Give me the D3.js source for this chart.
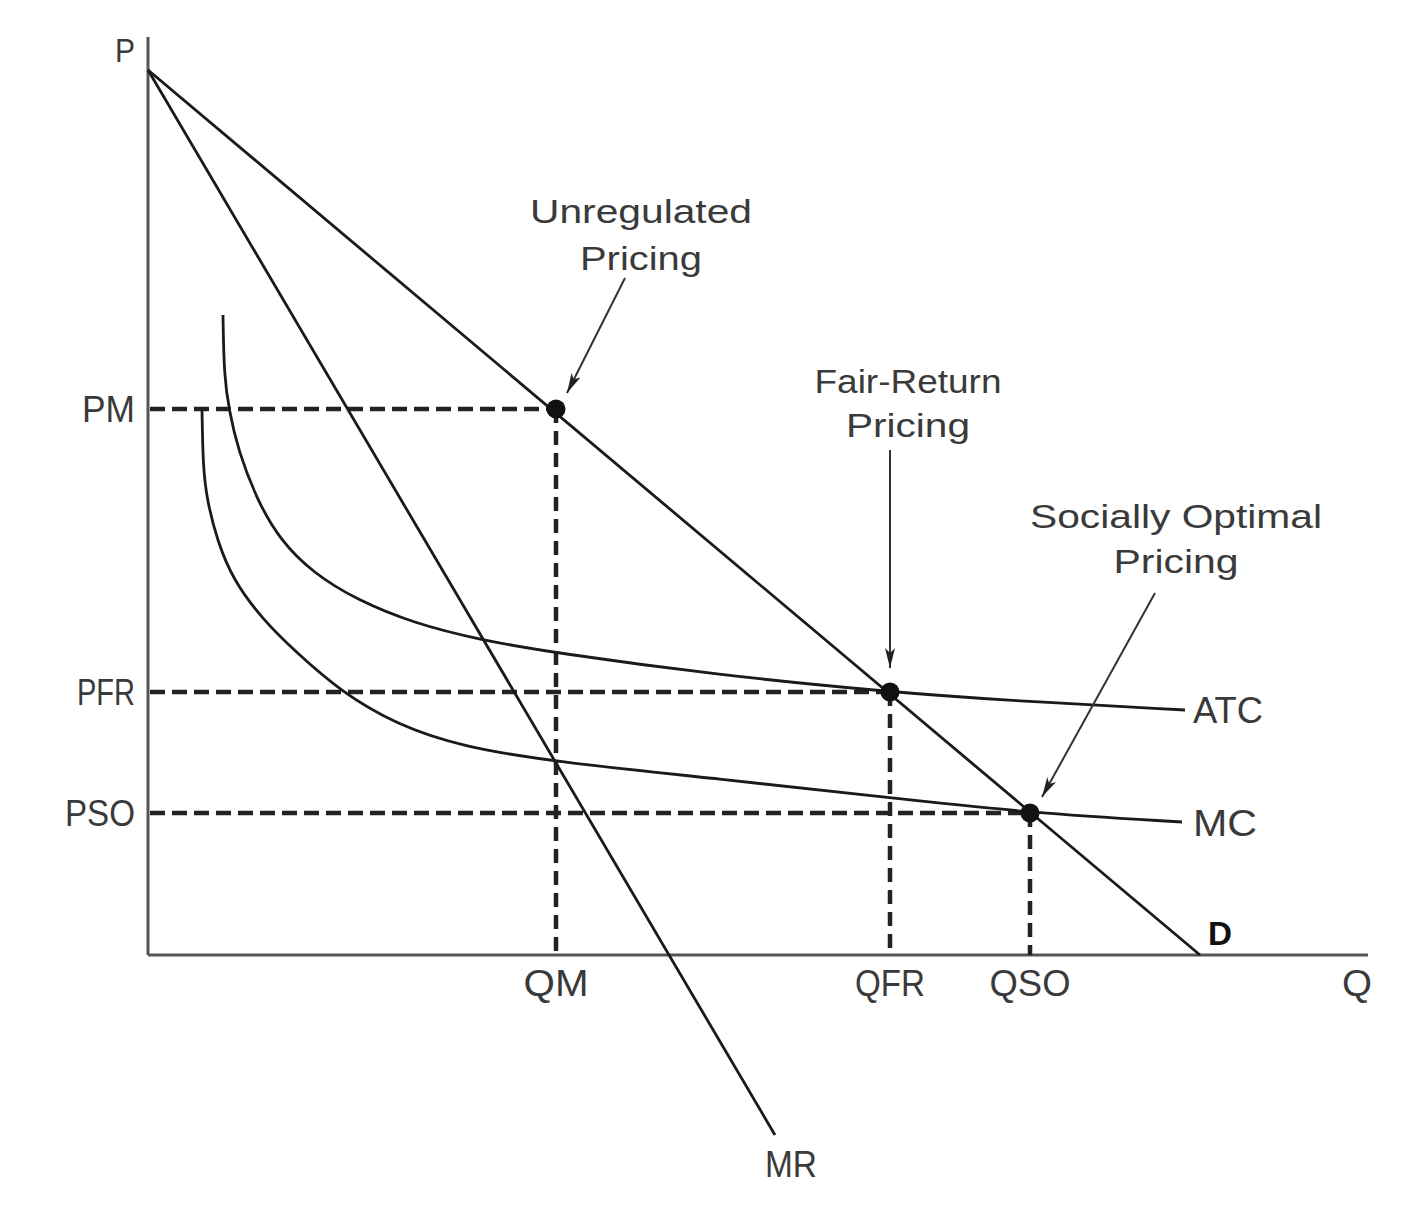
<!DOCTYPE html>
<html>
<head>
<meta charset="utf-8">
<script src="https://cdn.jsdelivr.net/npm/d3@7"></script>
<style>
  html, body { margin: 0; padding: 0; background: #fff; }
  svg { display: block; }
  text { font-family: "Liberation Sans", "DejaVu Sans", sans-serif; fill: #3a3a3a; }
</style>
</head>
<body>
<svg id="chart" width="1424" height="1206"></svg>
<script>
// ---------- DATA (Q and P in chart units) ----------
const demandPoints = [[0, 88.5], [105.2, 0]];
const mrPoints = [[0, 88.5], [62.7, -18]];
const atcPoints = [[7.5, 64], [7.6, 58], [8.1, 54.5], [9.0, 50.5], [10.9, 45.5], [13.2, 41.5],
  [16.5, 38.2], [20.9, 35.5], [26.5, 33.2], [33.2, 31.5], [40.8, 30.2], [56.9, 28.0],
  [74.2, 26.3], [85.2, 25.5], [103.7, 24.5]];
const mcPoints = [[5.4, 54.6], [5.5, 48.8], [5.9, 45.5], [6.9, 41.5], [8.5, 37.5], [11.5, 33.5],
  [14.9, 30.2], [19.2, 26.4], [24.9, 23.0], [31.5, 20.8], [40.8, 19.3], [57.2, 17.6],
  [73.5, 15.8], [88.2, 14.2], [103.4, 13.3]];
const priceLabels = ["PM", "PFR", "PSO"];
const priceValues = [54.6, 26.3, 14.2];
const qtyLabels = ["QM", "QFR", "QSO"];
const qtyValues = [40.8, 74.2, 88.2];
const curveLabels = ["ATC", "MC"];
const annotationTexts = [["Unregulated", "Pricing"], ["Fair-Return", "Pricing"], ["Socially Optimal", "Pricing"]];

// ---------- LAYOUT ----------
const svg = d3.select("#chart");
const x = d3.scaleLinear().domain([0, 122]).range([148, 1368]);
const y = d3.scaleLinear().domain([0, 91.8]).range([955, 37]);

const ink = "#1a1a1a";
const axisCol = "#555";

// axes
const axesG = svg.append("g");
axesG.append("line").attr("x1", x(0)).attr("x2", x(0)).attr("y1", y(91.8)).attr("y2", y(0))
  .attr("stroke", axisCol).attr("stroke-width", 3);
axesG.append("line").attr("x1", x(0)).attr("x2", x(122)).attr("y1", y(0)).attr("y2", y(0))
  .attr("stroke", axisCol).attr("stroke-width", 3);

// dashed guides
const dashG = svg.append("g");
priceValues.forEach((p, i) => {
  const q = qtyValues[i];
  dashG.append("line").attr("x1", x(0) + 2).attr("x2", x(q)).attr("y1", y(p)).attr("y2", y(p))
    .attr("stroke", "#222").attr("stroke-width", 4.5).attr("stroke-dasharray", "15 7");
  dashG.append("line").attr("x1", x(q)).attr("x2", x(q)).attr("y1", y(p)).attr("y2", y(0))
    .attr("stroke", "#222").attr("stroke-width", 4.5).attr("stroke-dasharray", "14 8");
});

// curves
const lineGen = d3.line().x(d => x(d[0])).y(d => y(d[1]));
const curveGen = d3.line().x(d => x(d[0])).y(d => y(d[1])).curve(d3.curveBasis);
svg.append("path").attr("d", lineGen(demandPoints)).attr("fill", "none").attr("stroke", ink).attr("stroke-width", 2.8);
svg.append("path").attr("d", lineGen(mrPoints)).attr("fill", "none").attr("stroke", ink).attr("stroke-width", 2.8);
svg.append("path").attr("d", curveGen(atcPoints)).attr("fill", "none").attr("stroke", ink).attr("stroke-width", 2.8);
svg.append("path").attr("d", curveGen(mcPoints)).attr("fill", "none").attr("stroke", ink).attr("stroke-width", 2.8);

// dots
priceValues.forEach((p, i) => {
  svg.append("circle").attr("cx", x(qtyValues[i])).attr("cy", y(p)).attr("r", 9.5).attr("fill", "#111");
});

// arrows
const defs = svg.append("defs");
defs.append("marker").attr("id", "ah").attr("viewBox", "0 0 20 10").attr("refX", 20).attr("refY", 5)
  .attr("markerWidth", 20).attr("markerHeight", 10).attr("markerUnits", "userSpaceOnUse")
  .attr("orient", "auto")
  .append("path").attr("d", "M0,0 L20,5 L0,10 L5,5 Z").attr("fill", "#222");
const arrows = [
  { from: [47.7, 67.7], to: [41.9, 56.2] },
  { from: [74.2, 50.5], to: [74.2, 28.7] },
  { from: [100.7, 36.2], to: [89.4, 15.8] }
];
arrows.forEach(a => {
  svg.append("line").attr("x1", x(a.from[0])).attr("y1", y(a.from[1]))
    .attr("x2", x(a.to[0])).attr("y2", y(a.to[1]))
    .attr("stroke", "#333").attr("stroke-width", 2).attr("marker-end", "url(#ah)");
});

// annotation texts
const annoLayout = [
  { cx: 49.3, base: [73.2, 68.5], len: [222, 122] },
  { cx: 76.0, base: [56.2, 51.8], len: [187, 124] },
  { cx: 102.8, base: [42.7, 38.2], len: [292, 125] }
];
annotationTexts.forEach((lines, i) => {
  const L = annoLayout[i];
  lines.forEach((t, j) => {
    svg.append("text").attr("x", x(L.cx)).attr("y", y(L.base[j])).attr("text-anchor", "middle")
      .attr("font-size", 34).attr("textLength", L.len[j]).attr("lengthAdjust", "spacingAndGlyphs")
      .text(t);
  });
});

// price tick labels
const priceLen = [53, 58, 70];
priceLabels.forEach((t, i) => {
  svg.append("text").attr("x", x(0) - 13).attr("y", y(priceValues[i]) + 13).attr("text-anchor", "end")
    .attr("font-size", 37).attr("textLength", priceLen[i]).attr("lengthAdjust", "spacingAndGlyphs").text(t);
});
// quantity tick labels
const qtyLen = [65, 70, 81];
qtyLabels.forEach((t, i) => {
  svg.append("text").attr("x", x(qtyValues[i])).attr("y", 996).attr("text-anchor", "middle")
    .attr("font-size", 37).attr("textLength", qtyLen[i]).attr("lengthAdjust", "spacingAndGlyphs").text(t);
});

// axis names
svg.append("text").attr("x", x(0) - 33).attr("y", 62).attr("font-size", 34)
  .attr("textLength", 20).attr("lengthAdjust", "spacingAndGlyphs").text("P");
svg.append("text").attr("x", x(119.4)).attr("y", 996).attr("font-size", 37)
  .attr("textLength", 30).attr("lengthAdjust", "spacingAndGlyphs").text("Q");

// curve labels
svg.append("text").attr("x", x(demandPoints[1][0]) + 8).attr("y", 945).attr("font-size", 34)
  .attr("font-weight", "bold").style("fill", "#111")
  .attr("textLength", 24).attr("lengthAdjust", "spacingAndGlyphs").text("D");
svg.append("text").attr("x", x(mrPoints[1][0]) - 10).attr("y", 1177).attr("font-size", 37)
  .attr("textLength", 52).attr("lengthAdjust", "spacingAndGlyphs").text("MR");
const lastATC = atcPoints[atcPoints.length - 1], lastMC = mcPoints[mcPoints.length - 1];
svg.append("text").attr("x", x(lastATC[0]) + 8).attr("y", y(lastATC[1]) + 13).attr("font-size", 37)
  .attr("textLength", 70).attr("lengthAdjust", "spacingAndGlyphs").text(curveLabels[0]);
svg.append("text").attr("x", x(lastMC[0]) + 11).attr("y", y(lastMC[1]) + 14).attr("font-size", 37)
  .attr("textLength", 64).attr("lengthAdjust", "spacingAndGlyphs").text(curveLabels[1]);
</script>
</body>
</html>
